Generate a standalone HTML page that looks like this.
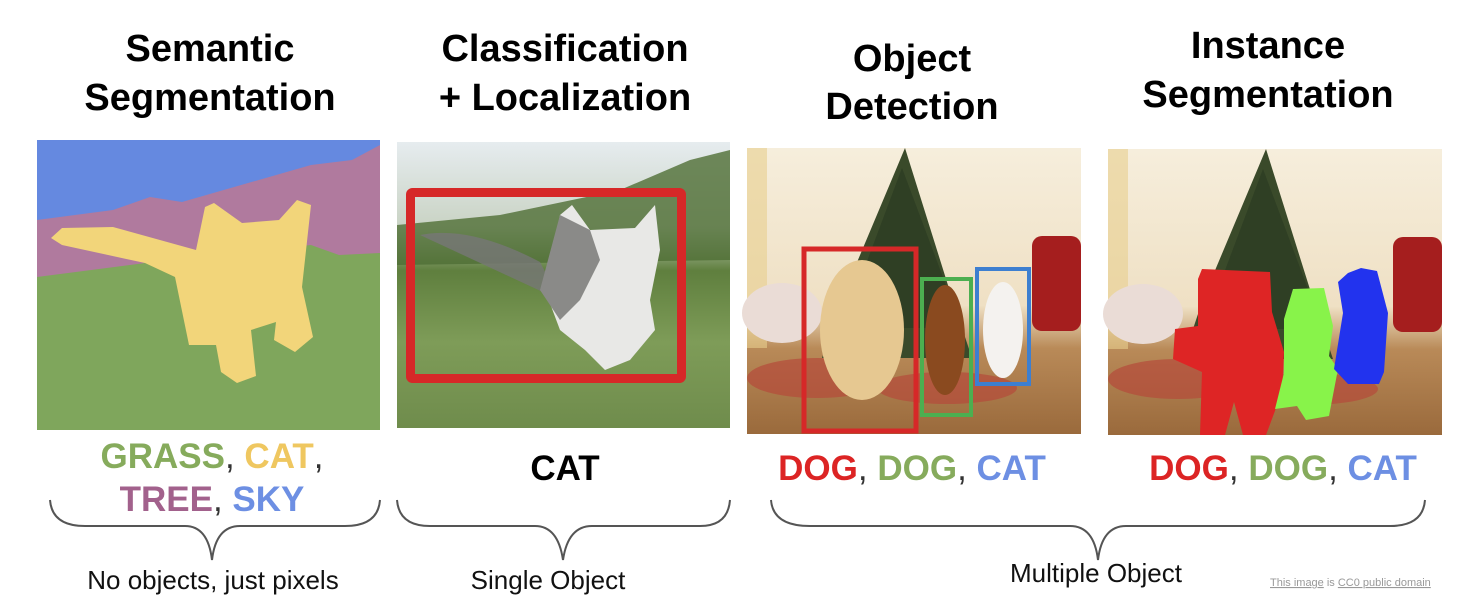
<!DOCTYPE html>
<html><head><meta charset="utf-8"><style>
html,body{margin:0;padding:0;background:#fff;}
svg{display:block;}
text{font-family:"Liberation Sans",Arial,sans-serif;}
</style></head><body>
<svg width="1463" height="607" viewBox="0 0 1463 607" xmlns="http://www.w3.org/2000/svg">
<defs>
<linearGradient id="cg" x1="0" y1="0" x2="0" y2="1">
<stop offset="0" stop-color="#e6ecef"/><stop offset="0.3" stop-color="#c9d3c4"/><stop offset="0.45" stop-color="#5f7f3e"/><stop offset="0.7" stop-color="#7e9c58"/><stop offset="1" stop-color="#6f8c4c"/>
</linearGradient>
<linearGradient id="rg" x1="0" y1="0" x2="0" y2="1">
<stop offset="0" stop-color="#f6eedc"/><stop offset="0.55" stop-color="#efe0c4"/><stop offset="0.7" stop-color="#b98a58"/><stop offset="1" stop-color="#9a6a3c"/>
</linearGradient>
<g id="room">
<rect x="0" y="0" width="334" height="286" fill="url(#rg)"/>
<rect x="0" y="0" width="20" height="200" fill="#e8cf8e" opacity="0.6"/>
<polygon points="158,0 95,150 75,210 225,210 205,150" fill="#3a4a2a"/>
<polygon points="155,20 95,180 215,180" fill="#2f3f24"/>
<rect x="285" y="88" width="49" height="95" rx="10" fill="#a51e1e"/>
<ellipse cx="35" cy="165" rx="40" ry="30" fill="#eadcd6"/>
<ellipse cx="70" cy="230" rx="70" ry="20" fill="#b54a3a" opacity="0.7"/>
<ellipse cx="200" cy="240" rx="70" ry="16" fill="#b54a3a" opacity="0.7"/>
</g>
</defs>

<!-- Titles -->
<g font-size="38" font-weight="bold" text-anchor="middle" fill="#000">
<text x="210" y="61">Semantic</text><text x="210" y="110">Segmentation</text>
<text x="565" y="61">Classification</text><text x="565" y="110">+ Localization</text>
<text x="912" y="71">Object</text><text x="912" y="119">Detection</text>
<text x="1268" y="58">Instance</text><text x="1268" y="107">Segmentation</text>
</g>

<!-- Semantic panel -->
<rect x="37" y="140" width="343" height="290" fill="#6589e0"/>
<polygon points="37,220 113,210 150,197 182,202 311,165 352,160 380,145 380,430 37,430" fill="#b07a9e"/>
<polygon points="37,277 145,263 311,245 339,255 380,253 380,430 37,430" fill="#7fa65c"/>
<polygon points="51,238 62,228 113,227 196,250 205,207 214,203 242,223 279,220 297,200 311,205 302,287 313,337 295,352 274,340 276,322 251,330 256,376 237,383 221,372 216,345 189,345 175,277 145,263 62,245" fill="#f2d57a"/>

<!-- Cat photo -->
<rect x="397" y="142" width="333" height="286" fill="url(#cg)"/>
<polygon points="397,225 500,215 620,190 690,160 730,150 730,260 397,265" fill="#4f6e34" opacity="0.8"/>
<path d="M420,235 Q470,225 540,262 L560,300 Z" fill="#777" opacity="0.8"/>
<path d="M560,215 L572,205 L590,230 L635,228 L655,205 L660,250 L650,300 L655,330 L630,360 L605,370 L585,350 L560,330 L545,290 Z" fill="#e8e8e6"/>
<path d="M560,215 L590,230 L600,260 L580,300 L560,320 L540,290 Z" fill="#8a8a88"/>
<rect x="410.5" y="192.5" width="271" height="186" fill="none" stroke="#d62828" stroke-width="9" rx="2"/>

<!-- Detection photo -->
<g transform="translate(747,148)"><use href="#room"/></g>
<ellipse cx="862" cy="330" rx="42" ry="70" fill="#e6c891"/>
<ellipse cx="945" cy="340" rx="20" ry="55" fill="#8a4a1f"/>
<ellipse cx="1003" cy="330" rx="20" ry="48" fill="#f4f2ef"/>
<rect x="804" y="249" width="112" height="182" fill="none" stroke="#d62828" stroke-width="5"/>
<rect x="922" y="279" width="49" height="136" fill="none" stroke="#4caf50" stroke-width="4"/>
<rect x="977" y="269" width="52" height="115" fill="none" stroke="#3d7fd0" stroke-width="4"/>

<!-- Instance photo -->
<g transform="translate(1108,149)"><use href="#room"/></g>
<polygon points="1202,269 1270,272 1272,312 1284,352 1282,392 1266,435 1243,435 1234,402 1225,435 1200,435 1202,372 1173,359 1175,329 1198,326 1198,279" fill="#de2525"/>
<polygon points="1293,289 1324,288 1333,326 1329,356 1338,369 1329,416 1306,420 1297,406 1275,409 1284,373 1284,319" fill="#88f34a"/>
<polygon points="1348,273 1361,268 1377,271 1388,313 1384,372 1379,384 1348,384 1334,369 1343,313 1338,282" fill="#2233ee"/>

<!-- Labels -->
<g font-size="35" font-weight="bold" text-anchor="middle">
<text x="212" y="468"><tspan fill="#86ab5c">GRASS</tspan><tspan fill="#333" font-weight="normal">, </tspan><tspan fill="#efc760">CAT</tspan><tspan fill="#333" font-weight="normal">,</tspan></text>
<text x="212" y="511"><tspan fill="#a2618c">TREE</tspan><tspan fill="#333" font-weight="normal">, </tspan><tspan fill="#6d8fe3">SKY</tspan></text>
<text x="565" y="480" fill="#000">CAT</text>
<text x="912" y="480"><tspan fill="#dc2424">DOG</tspan><tspan fill="#333" font-weight="normal">, </tspan><tspan fill="#86ab5c">DOG</tspan><tspan fill="#333" font-weight="normal">, </tspan><tspan fill="#6d8fe3">CAT</tspan></text>
<text x="1283" y="480"><tspan fill="#dc2424">DOG</tspan><tspan fill="#333" font-weight="normal">, </tspan><tspan fill="#86ab5c">DOG</tspan><tspan fill="#333" font-weight="normal">, </tspan><tspan fill="#6d8fe3">CAT</tspan></text>
</g>

<!-- Braces -->
<g fill="none" stroke="#555" stroke-width="2">
<path d="M50,500 Q52,526 85,526 L185,526 Q208,526 212,560 Q216,526 240,526 L345,526 Q378,526 380,500"/>
<path d="M397,500 Q399,526 430,526 L535,526 Q558,526 563,560 Q568,526 592,526 L700,526 Q728,526 730,500"/>
<path d="M771,500 Q773,526 810,526 L1070,526 Q1094,526 1098,560 Q1102,526 1126,526 L1390,526 Q1423,526 1425,500"/>
</g>

<g font-size="26" text-anchor="middle" fill="#111">
<text x="213" y="589">No objects, just pixels</text>
<text x="548" y="589">Single Object</text>
<text x="1096" y="582">Multiple Object</text>
</g>
<text x="1270" y="586" font-size="11" fill="#999"><tspan text-decoration="underline">This image</tspan> is <tspan text-decoration="underline">CC0 public domain</tspan></text>
</svg>
</body></html>
